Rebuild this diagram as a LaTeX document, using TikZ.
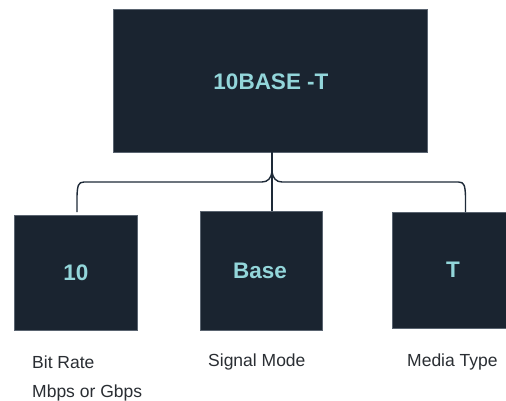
\documentclass[tikz,border=0pt]{standalone}
\usepackage{fontspec}
\setmainfont{Liberation Sans}
\definecolor{boxfill}{HTML}{1A2430}
\definecolor{boxedge}{HTML}{5A6470}
\definecolor{boxtext}{HTML}{93D6DA}
\definecolor{wire}{HTML}{1E2A38}
\definecolor{captext}{HTML}{2A2E33}
\begin{document}
\begin{tikzpicture}[x=1pt,y=-1pt,
  darkbox/.style={draw=boxedge, line width=0.5pt, fill=boxfill, inner sep=0pt, anchor=north west},
  boxlabel/.style={text=boxtext, font=\bfseries\fontsize{22.5}{26}\selectfont},
  caption/.style={text=captext, font=\fontsize{17.5}{21}\selectfont, anchor=west, inner sep=0pt},
  wireline/.style={draw=wire, line width=1.4pt}]
\useasboundingbox (0,0) rectangle (506,401);
\fill[white] (0,0) rectangle (506,401);

% boxes
\node[darkbox, minimum width=314pt, minimum height=143pt] (top) at (113,9) {};
\node[darkbox, minimum width=123pt, minimum height=115pt] (b1) at (14,215) {};
\node[darkbox, minimum width=122pt, minimum height=119pt] (b2) at (200,211) {};
\node[darkbox, minimum width=116pt, minimum height=116pt] (b3) at (392,212) {};

% box texts
\node[boxlabel] (ttop) at (271,82) {10BASE -T};
\node[boxlabel] (t1) at (76,273) {10};
\node[boxlabel] (t2) at (260,271) {Base};
\node[boxlabel] (t3) at (453,270) {T};

% connectors
\coordinate (jn) at (272,172);
\coordinate (lft) at (77,212);
\coordinate (rgt) at (465.5,212);
\draw[wireline] (top.south -| jn) -- (b2.north -| jn);
\draw[wireline] (lft) -- (77,196) .. controls (77.5,186) and (78,182) .. (84,182)
  -- (262,182) .. controls (268,182) and (271,178) .. (jn);
\draw[wireline] (rgt) -- (465.5,196) .. controls (465,186) and (464.5,182) .. (458.5,182)
  -- (282,182) .. controls (276,182) and (273,178) .. (jn);

% captions
\node[caption] (c1) at (32,362) {Bit Rate};
\node[caption] (c1b) at (32,393) {Mbps or Gbps};
\node[caption] (c2) at (208,362) {Signal Mode};
\node[caption] (c3) at (407,362) {Media Type};
\end{tikzpicture}
\end{document}
